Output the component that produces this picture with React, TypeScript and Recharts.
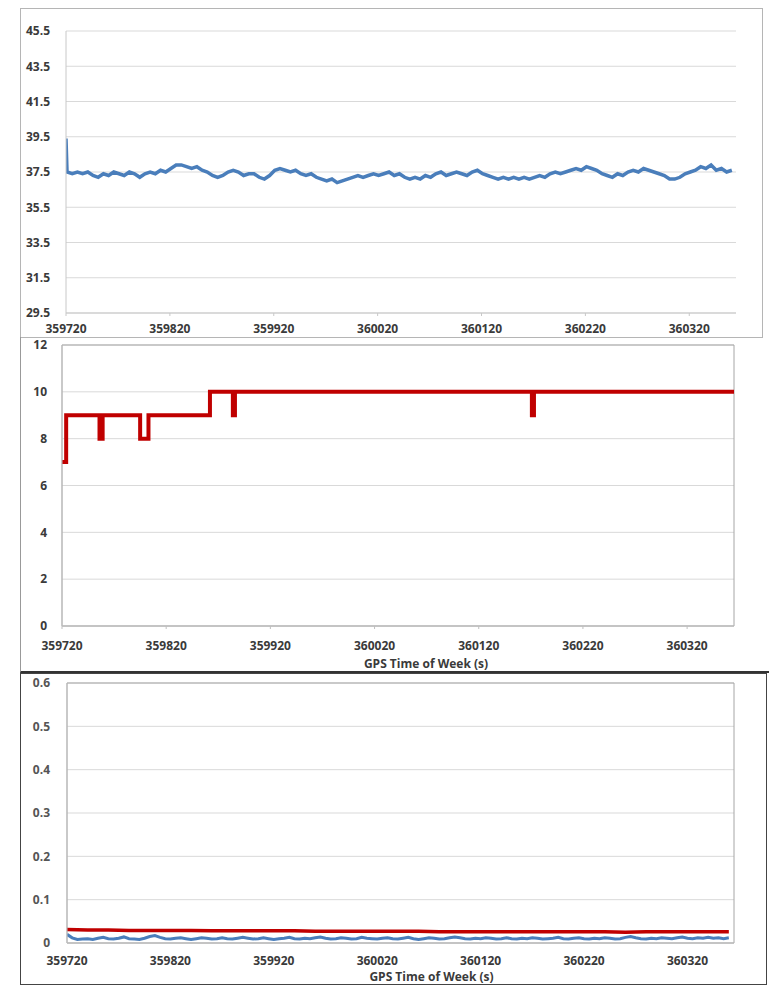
import { LineChart, Line, XAxis, YAxis, CartesianGrid, ReferenceArea } from "recharts";

// shared x axis
const timeTicks = [359720, 359820, 359920, 360020, 360120, 360220, 360320];
const timeDomain: [number, number] = [359720, 360365];

// top panel: blue trace, 5 s samples after the first spike
const tempSpikeTime = 359720;
const tempSpikeValue = 39.4;
const tempStart = 359721;
const tempStep = 5;
const tempValues = [
  37.5, 37.4, 37.5, 37.4, 37.5, 37.3, 37.2, 37.4, 37.3, 37.5,
  37.4, 37.3, 37.5, 37.4, 37.2, 37.4, 37.5, 37.4, 37.6, 37.5,
  37.7, 37.9, 37.9, 37.8, 37.7, 37.8, 37.6, 37.5, 37.3, 37.2,
  37.3, 37.5, 37.6, 37.5, 37.3, 37.4, 37.4, 37.2, 37.1, 37.3,
  37.6, 37.7, 37.6, 37.5, 37.6, 37.4, 37.3, 37.4, 37.2, 37.1,
  37.0, 37.1, 36.9, 37.0, 37.1, 37.2, 37.3, 37.2, 37.3, 37.4,
  37.3, 37.4, 37.5, 37.3, 37.4, 37.2, 37.1, 37.2, 37.1, 37.3,
  37.2, 37.4, 37.5, 37.3, 37.4, 37.5, 37.4, 37.3, 37.5, 37.6,
  37.4, 37.3, 37.2, 37.1, 37.2, 37.1, 37.2, 37.1, 37.2, 37.1,
  37.2, 37.3, 37.2, 37.4, 37.5, 37.4, 37.5, 37.6, 37.7, 37.6,
  37.8, 37.7, 37.6, 37.4, 37.3, 37.2, 37.4, 37.3, 37.5, 37.6,
  37.5, 37.7, 37.6, 37.5, 37.4, 37.3, 37.1, 37.1, 37.2, 37.4,
  37.5, 37.6, 37.8, 37.7, 37.9, 37.6, 37.7, 37.5, 37.6,
];
const tempTicks = [29.5, 31.5, 33.5, 35.5, 37.5, 39.5, 41.5, 43.5, 45.5];

// middle panel: step trace
const stepTimes = [359720, 359724, 359756, 359759, 359795, 359803, 359862, 359884, 359886, 360171, 360173, 360365];
const stepValues = [7, 9, 8, 9, 8, 9, 10, 9, 10, 9, 10, 10];
const stepTicks = [0, 2, 4, 6, 8, 10, 12];

// bottom panel: blue (5 s) and red (20 s)
const lowStart = 359720;
const lowStep = 5;
const lowValues = [
  0.020, 0.012, 0.008, 0.009, 0.010, 0.008, 0.011, 0.013, 0.010, 0.009,
  0.011, 0.014, 0.010, 0.009, 0.008, 0.011, 0.015, 0.017, 0.013, 0.010,
  0.009, 0.011, 0.012, 0.010, 0.008, 0.010, 0.012, 0.011, 0.009, 0.010,
  0.012, 0.010, 0.009, 0.011, 0.013, 0.011, 0.009, 0.010, 0.012, 0.010,
  0.008, 0.010, 0.011, 0.013, 0.010, 0.009, 0.011, 0.010, 0.012, 0.014,
  0.011, 0.009, 0.010, 0.012, 0.011, 0.009, 0.010, 0.013, 0.011, 0.010,
  0.009, 0.011, 0.012, 0.010, 0.009, 0.011, 0.013, 0.010, 0.008, 0.010,
  0.012, 0.011, 0.009, 0.010, 0.012, 0.014, 0.012, 0.010, 0.009, 0.011,
  0.010, 0.012, 0.011, 0.009, 0.010, 0.012, 0.010, 0.009, 0.011, 0.010,
  0.012, 0.011, 0.009, 0.010, 0.011, 0.013, 0.010, 0.009, 0.011, 0.012,
  0.010, 0.009, 0.011, 0.010, 0.012, 0.011, 0.009, 0.010, 0.013, 0.015,
  0.012, 0.010, 0.009, 0.011, 0.010, 0.012, 0.011, 0.010, 0.012, 0.014,
  0.011, 0.010, 0.012, 0.011, 0.013, 0.011, 0.012, 0.010, 0.012,
];
const limitStart = 359720;
const limitStep = 20;
const limitValues = [
  0.031, 0.030, 0.030, 0.029, 0.029, 0.029, 0.029, 0.028, 0.028, 0.028,
  0.028, 0.028, 0.027, 0.027, 0.027, 0.027, 0.027, 0.027, 0.026, 0.026,
  0.026, 0.026, 0.026, 0.026, 0.026, 0.026, 0.026, 0.025, 0.026, 0.026,
  0.026, 0.026, 0.026,
];
const lowTicks = [0, 0.1, 0.2, 0.3, 0.4, 0.5, 0.6];

const xTitle = "GPS Time of Week (s)";

const BLUE = "#4a7ebb";
const RED = "#c00000";
const font = "'Open Sans', 'Liberation Sans', sans-serif";
const tickStyle = { fontSize: 12, fontWeight: 700, fill: "#3a3a3a", fontFamily: font };

const tempData = [
  { t: tempSpikeTime, v: tempSpikeValue },
  ...tempValues.map((v, i) => ({ t: tempStart + i * tempStep, v })),
];
const stepData = stepTimes.map((t, i) => ({ t, v: stepValues[i] }));
const lowData = lowValues.map((v, i) => ({ t: lowStart + i * lowStep, v }));
const limitData = limitValues.map((v, i) => ({ t: limitStart + i * limitStep, v }));

export default function App() {
  return (
    <div style={{ position: "absolute", left: 0, top: 0, width: 769, height: 988, background: "#fff" }}>
      {/* frames */}
      <div style={{ position: "absolute", left: 20, top: 8, width: 741, height: 328, border: "1px solid #b5b5b5" }} />
      <div style={{ position: "absolute", left: 20, top: 337, width: 749, height: 334, borderLeft: "1px solid #999", borderBottom: "2px solid #333" }} />
      <div style={{ position: "absolute", left: 20, top: 673, width: 745, height: 310, border: "1.5px solid #444" }} />

      {/* top */}
      <div style={{ position: "absolute", left: 0, top: 8 }}>
        <LineChart width={769} height={329} data={tempData} margin={{ top: 23, right: 33, left: 6, bottom: 0 }}>
          <CartesianGrid vertical={false} stroke="#d9d9d9" />
          <XAxis
            dataKey="t"
            type="number"
            domain={timeDomain}
            ticks={timeTicks}
            allowDataOverflow
            height={24}
            stroke="#c8c8c8"
            tickSize={3}
            tickMargin={8}
            tick={tickStyle}
          />
          <YAxis
            type="number"
            domain={[29.5, 45.5]}
            ticks={tempTicks}
            width={60}
            stroke="#c8c8c8"
            tickLine={false}
            tickSize={0}
            tickMargin={16}
            tick={tickStyle}
            tickFormatter={(v: number) => v.toFixed(1)}
          />
          <Line dataKey="v" type="linear" stroke={BLUE} strokeWidth={3.5} dot={false} isAnimationActive={false} />
        </LineChart>
      </div>

      {/* middle */}
      <div style={{ position: "absolute", left: 0, top: 337 }}>
        <LineChart width={769} height={336} data={stepData} margin={{ top: 8, right: 35, left: 2, bottom: 5 }}>
          <CartesianGrid vertical={false} stroke="#d9d9d9" />
          <ReferenceArea x1={timeDomain[0]} x2={timeDomain[1]} y1={0} y2={12} fill="none" stroke="#a6a6a6" />
          <XAxis
            dataKey="t"
            type="number"
            domain={timeDomain}
            ticks={timeTicks}
            allowDataOverflow
            height={42}
            stroke="#bfbfbf"
            tickSize={3}
            tickMargin={12}
            tick={tickStyle}
            label={{ value: xTitle, position: "insideBottom", offset: 0, dx: 28, style: { ...tickStyle, fontSize: 12 } }}
          />
          <YAxis
            type="number"
            domain={[0, 12]}
            ticks={stepTicks}
            width={60}
            stroke="#bfbfbf"
            tickLine={false}
            tickSize={0}
            tickMargin={15}
            tick={tickStyle}
          />
          <Line dataKey="v" type="stepAfter" stroke={RED} strokeWidth={4} dot={false} isAnimationActive={false} />
        </LineChart>
      </div>

      {/* bottom */}
      <div style={{ position: "absolute", left: 0, top: 673 }}>
        <LineChart width={769} height={312} margin={{ top: 10, right: 35, left: 7, bottom: 4 }}>
          <CartesianGrid vertical={false} stroke="#d9d9d9" />
          <ReferenceArea x1={timeDomain[0]} x2={timeDomain[1]} y1={0} y2={0.6} fill="none" stroke="#a6a6a6" />
          <XAxis
            dataKey="t"
            type="number"
            domain={timeDomain}
            ticks={timeTicks}
            allowDataOverflow
            height={38}
            stroke="#bfbfbf"
            tickSize={0}
            tickMargin={13}
            tick={tickStyle}
            label={{ value: xTitle, position: "insideBottom", offset: 0, dx: 31, style: { ...tickStyle, fontSize: 12 } }}
          />
          <YAxis
            type="number"
            domain={[0, 0.6]}
            ticks={lowTicks}
            width={60}
            stroke="#bfbfbf"
            tickLine={false}
            tickSize={0}
            tickMargin={17}
            tick={{ ...tickStyle, fill: "#555" }}
          />
          <Line data={limitData} dataKey="v" type="linear" stroke={RED} strokeWidth={3.5} dot={false} isAnimationActive={false} />
          <Line data={lowData} dataKey="v" type="linear" stroke={BLUE} strokeWidth={3} dot={false} isAnimationActive={false} />
        </LineChart>
      </div>
    </div>
  );
}
